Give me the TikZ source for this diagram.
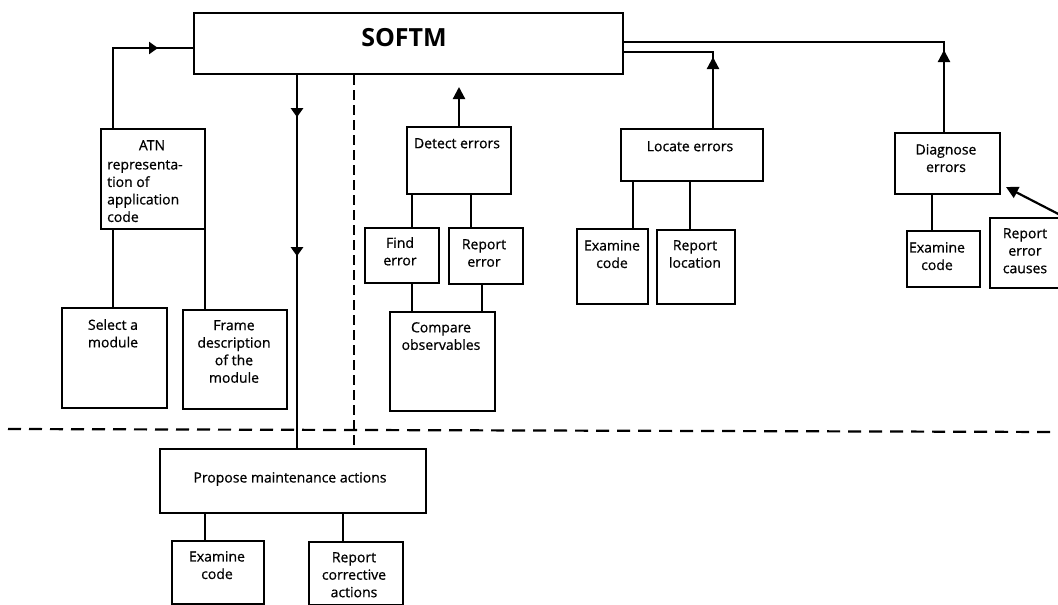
\documentclass[tikz,border=0pt]{standalone}
\usepackage{fontspec}
\setmainfont{Open Sans}
\newfontfamily\scanfont{Open Sans}[FakeBold=0.7]
\usetikzlibrary{arrows.meta,decorations.markings,calc}

\tikzset{
  box/.style={draw, line width=2.2pt, inner sep=0pt, anchor=north west},
  txt/.style={font=\scanfont\fontsize{14}{17.5}\selectfont, align=center, inner sep=0pt, anchor=north},
  conn/.style={line width=2.2pt},
  uptip/.style={-{Triangle[length=12pt,width=12pt]}},
  midtip/.style={postaction={decorate}, decoration={markings, mark=at position #1 with {\arrow{Triangle[length=9pt,width=12pt]}}}},
  upmid/.style={postaction={decorate}, decoration={markings, mark=at position #1 with {\arrow{Triangle[length=12pt,width=12pt]}}}},
  twomid/.style 2 args={postaction={decorate}, decoration={markings,
      mark=at position #1 with {\arrow{Triangle[length=9pt,width=12pt]}},
      mark=at position #2 with {\arrow{Triangle[length=9pt,width=12pt]}}}},
  dashv/.style={line width=2.2pt, dash pattern=on 10pt off 5pt},
  dashh/.style={line width=2.2pt, dash pattern=on 13pt off 8pt},
}
\newcommand\mybox[5]{\node[box, minimum width={#4-#2}, minimum height={#5-#3}] (#1) at (#2,#3) {};}

\begin{document}
\begin{tikzpicture}[x=1pt,y=-1pt]
\useasboundingbox (0,0) rectangle (1058,605);

% boxes
\mybox{softm}{193}{12}{622}{73}
\mybox{atn}{100}{128}{204}{228}
\mybox{sel}{61}{307}{166}{407}
\mybox{frame}{182}{309}{286}{408}
\mybox{det}{406}{126}{510}{193}
\mybox{find}{364}{227}{438}{282}
\mybox{reperr}{448}{227}{522}{283}
\mybox{cmp}{389}{311}{494}{410}
\mybox{loc}{620}{128}{762}{180}
\mybox{exa}{576}{228}{647}{303}
\mybox{rloc}{656}{229}{734}{303}
\mybox{diag}{894}{132}{999}{193}
\mybox{exb}{906}{230}{979}{286}
\mybox{caus}{989}{217}{1062}{287}
\mybox{prop}{159}{448}{425}{512}
\mybox{exc}{171}{540}{263}{603}
\mybox{rcor}{308}{541}{402}{604}

% texts
\node[font=\fontsize{25}{30}\selectfont\bfseries, inner sep=0pt] (softm-t) at (404,38) {SOFTM};
\node[txt] (atn-t1) at (152,140) {ATN};
\node[txt, align=left, anchor=north west] (atn-t2) at (107,160) {representa-\\tion of\\application\\code};
\node[txt] (sel-t) at (113,319) {Select a\\module};
\node[txt] (frame-t) at (234,320) {Frame\\description\\of the\\module};
\node[txt] (det-t) at (457,138) {Detect errors};
\node[txt] (find-t) at (400,237) {Find\\error};
\node[txt] (reperr-t) at (484,239) {Report\\error};
\node[txt] (cmp-t) at (441,322) {Compare\\observables};
\node[txt] (loc-t) at (690,141) {Locate errors};
\node[txt] (exa-t) at (612,240) {Examine\\code};
\node[txt] (rloc-t) at (695,240) {Report\\location};
\node[txt] (diag-t) at (946,144) {Diagnose\\errors};
\node[txt] (exb-t) at (937,242) {Examine\\code};
\node[txt] (caus-t) at (1025,228) {Report\\error\\causes};
\node[txt] (prop-t) at (290,472) {Propose maintenance actions};
\node[txt] (exc-t) at (217,551) {Examine\\code};
\node[txt] (rcor-t) at (354,552) {Report\\corrective\\actions};

% helper coordinates
\coordinate (xa) at (113,0);
\coordinate (xb) at (205,0);
\coordinate (xv) at (297,0);
\coordinate (xd) at (354,0);
\coordinate (xdet) at (459,0);
\coordinate (xf) at (412,0);
\coordinate (xr) at (471,0);
\coordinate (xr2) at (482,0);
\coordinate (xl) at (713,0);
\coordinate (xl1) at (633,0);
\coordinate (xl2) at (690,0);
\coordinate (xg) at (944,0);
\coordinate (xg1) at (932,0);
\coordinate (xp1) at (205,0);
\coordinate (xp2) at (343,0);
\coordinate (ya) at (0,48);
\coordinate (yl) at (0,52);
\coordinate (yg) at (0,42);
\coordinate (dtip) at (459,87);
\coordinate (ctip) at (1006,187);
\coordinate (dl) at (8,429);
\coordinate (dr) at (1058,432);

% connectors
\draw[conn, midtip=125pt] (atn.north -| xa) |- (softm.west |- ya);
\draw[conn, twomid={42pt}{181pt}] (softm.south -| xv) -- (prop.north -| xv);
\draw[dashv] (softm.south -| xd) -- (prop.north -| xd);
\draw[dashh] (dl) -- (dr);

\draw[conn] (atn.south -| xa) -- (sel.north -| xa);
\draw[conn] (atn.south -| xb) -- (frame.north -| xb);

\draw[conn, uptip] (det.north -| xdet) -- (dtip);
\draw[conn] (det.south -| xf) -- (find.north -| xf);
\draw[conn] (det.south -| xr) -- (reperr.north -| xr);
\draw[conn] (find.south -| xf) -- (cmp.north -| xf);
\draw[conn] (reperr.south -| xr2) -- (cmp.north -| xr2);

\draw[conn, upmid=71pt] (loc.north -| xl) |- (softm.east |- yl);
\draw[conn] (loc.south -| xl1) -- (exa.north -| xl1);
\draw[conn] (loc.south -| xl2) -- (rloc.north -| xl2);

\draw[conn, upmid=82pt] (diag.north -| xg) |- (softm.east |- yg);
\draw[conn] (diag.south -| xg1) -- (exb.north -| xg1);
\draw[conn, uptip] (caus.north east) -- (ctip);

\draw[conn] (prop.south -| xp1) -- (exc.north -| xp1);
\draw[conn] (prop.south -| xp2) -- (rcor.north -| xp2);
\end{tikzpicture}
\end{document}
